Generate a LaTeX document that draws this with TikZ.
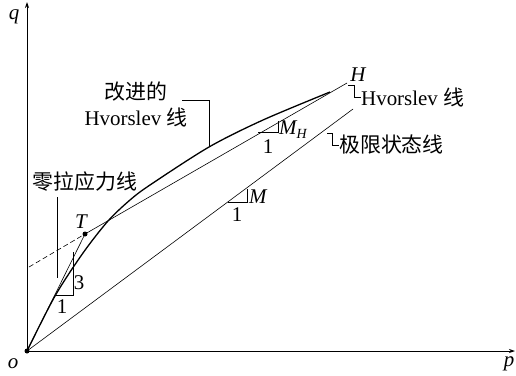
\documentclass[tikz,border=0pt]{standalone}
\usepackage{fontspec}
\setmainfont{Liberation Serif}
\newfontfamily\cjk{Noto Sans CJK SC}
\usetikzlibrary{arrows.meta}
\begin{document}
\begin{tikzpicture}[x=1bp,y=-1bp,
  lbl/.style={inner sep=0pt,font=\fontsize{21}{25}\selectfont},
  ilbl/.style={inner sep=0pt,font=\fontsize{21}{25}\selectfont\itshape},
  thin line/.style={line width=0.6bp},
  axis/.style={line width=0.8bp,-{Stealth[length=6bp,width=4bp]}},
  curve/.style={line width=1.3bp},
  lead/.style={line width=0.6bp}]
\useasboundingbox (0,0) rectangle (516,375);
% key points
\coordinate (O) at (27,351);
\coordinate (Xend) at (515,351);
\coordinate (Yend) at (27,2);
\coordinate (T) at (85,234);
\coordinate (Hv) at (347,83);
\coordinate (Hs) at (29,267);
\coordinate (CS) at (353,109);
% axes
\draw[axis] (O) -- (Xend);
\draw[axis] (O) -- (Yend);
% lines
\draw[thin line,dash pattern=on 5bp off 3bp] (Hs) -- (T);
\draw[thin line] (T) -- (Hv);
\draw[thin line] (O) -- (T);
\draw[thin line] (O) -- (CS);
% modified Hvorslev curve
\draw[curve] plot[smooth,tension=0.5] coordinates {(27,351) (55,296) (83,253) (108,221) (130,200) (150,185) (209,147) (263,120) (330,92)};
\fill (O) circle (2.5bp);
\fill (T) circle (2.5bp);
% slope triangles
\coordinate (t1a) at (55,295); \coordinate (t1b) at (73,295); \coordinate (t1c) at (73,252);
\draw[lead] (t1a) -- (t1b) -- (t1c);
\coordinate (t2a) at (258,132); \coordinate (t2b) at (278,132); \coordinate (t2c) at (278,121);
\draw[lead] (t2a) -- (t2b) -- (t2c);
\coordinate (t3a) at (228,202); \coordinate (t3b) at (247,202); \coordinate (t3c) at (247,189);
\draw[lead] (t3a) -- (t3b) -- (t3c);
% labels
\node[ilbl] (q) at (14,17) {q};
\node[ilbl] (o) at (13,364) {o};
\node[ilbl] (p) at (509,364) {p};
\node[ilbl] (Tl) at (81,222) {T};
\node[ilbl] (Hl) at (358,75) {H};
\node[lbl] (three) at (79,283) {3};
\node[lbl] (one1) at (62,307) {1};
\node[lbl] (one2) at (268,147) {1};
\node[lbl] (one3) at (237,215) {1};
\node[ilbl,anchor=west] (MH) at (279,130) {M\raisebox{-0.4ex}{\fontsize{14}{14}\selectfont\itshape H}};
\node[ilbl,anchor=west] (Ml) at (249,197) {M};
\node[lbl] (zt) at (85,182) {\cjk 零拉应力线};
\node[lbl] (mh1) at (136,92) {\cjk 改进的};
\node[lbl] (mh2) at (136,117) {Hvorslev {\cjk 线}};
\node[lbl,anchor=west] (hvl) at (361,97) {Hvorslev {\cjk 线}};
\node[lbl,anchor=west] (csl) at (339,145) {\cjk 极限状态线};
% leaders
\coordinate (l1a) at (57,197); \coordinate (l1b) at (57,278);
\draw[lead] (l1a) -- (l1b);
\coordinate (l2a) at (182,100); \coordinate (l2b) at (209,100); \coordinate (l2c) at (209,147);
\draw[lead] (l2a) -- (l2b) -- (l2c);
\coordinate (l3a) at (348,85); \coordinate (l3b) at (354,85); \coordinate (l3c) at (354,97);
\draw[lead] (l3a) -- (l3b) -- (l3c) -- (hvl.west);
\coordinate (l4a) at (327,133); \coordinate (l4b) at (332,133); \coordinate (l4c) at (332,145);
\draw[lead] (l4a) -- (l4b) -- (l4c) -- (csl.west);
\end{tikzpicture}
\end{document}
